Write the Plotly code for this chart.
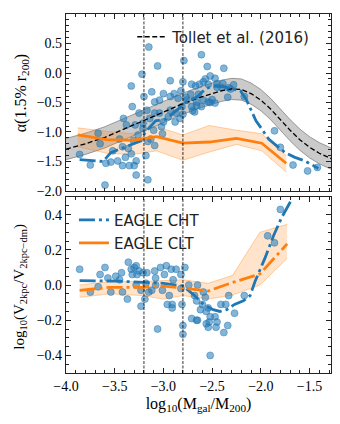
import plotly.graph_objects as go

# ---------------- data ----------------
top_x = [-3.06, -3.22, -3.33, -2.93, -2.80, -2.71, -2.59, -2.55, -2.52, -2.47, -2.45, -2.39,
         -3.12, -3.20, -3.00, -2.89, -3.09, -3.04, -2.93, -2.85, -2.81, -2.76, -2.71, -2.66,
         -2.59, -2.54, -2.50, -2.68, -2.61, -3.17, -3.32, -3.25, -2.93, -2.87, -2.83, -2.88,
         -3.00, -2.95, -3.04, -3.09, -3.14, -3.21, -3.29, -3.38, -3.41, -3.26, -3.21, -3.10,
         -3.02, -3.31, -3.16, -3.36, -2.82, -2.77, -2.72, -2.70, -2.80, -2.67, -3.09, -3.13,
         -3.01, -3.15, -3.67, -3.65, -3.45, -3.33, -3.39, -3.28, -3.30, -3.35, -3.42, -3.47,
         -3.52, -3.54, -3.59, -3.75, -3.86, -3.28, -3.60, -3.16, -3.18, -2.79, -3.42, -2.61,
         -2.38, -2.28, -2.33, -2.34, -2.17, -1.86, -1.80, -1.67, -1.52, -1.42, -2.45, -2.40,
         -2.52, -2.47, -2.66, -2.64, -2.63, -2.54, -2.57, -2.31]
top_y = [0.12, -0.02, -0.22, -0.13, -0.15, -0.19, -0.15, 0.11, -0.05, -0.09, -0.18, -0.18,
         -0.32, -0.40, -0.35, -0.35, -0.49, -0.46, -0.40, -0.43, -0.57, -0.46, -0.57, -0.49,
         -0.46, -0.49, -0.45, -0.66, -0.57, -0.63, -0.57, -0.68, -0.63, -0.68, -0.77, -0.83,
         -0.83, -0.74, -0.68, -0.68, -0.77, -0.85, -0.88, -0.88, -0.77, -1.05, -0.94, -0.97,
         -0.91, -1.14, -1.16, -1.28, -0.30, -0.41, -0.36, -0.64, -0.70, -0.22, -1.23, -1.12,
         -1.03, 0.44, -1.02, -1.20, -1.12, -1.37, -1.43, -1.49, -1.57, -1.57, -1.57, -1.49,
         -1.32, -1.51, -1.53, -1.56, -1.38, -1.73, -1.90, -1.81, -1.40, 0.21, -1.25, 0.31,
         0.08, -0.20, -0.25, -0.41, -0.40, -0.98, -1.26, -1.56, -1.66, -1.60, -0.24, -0.25,
         -0.50, -0.51, -0.55, -0.36, -0.19, -0.19, -0.10, -0.27]

bot_x = [-3.86, -3.75, -3.65, -3.60, -3.57, -3.67, -3.54, -3.49, -3.45, -3.42, -3.43, -3.36,
         -3.33, -3.30, -3.28, -3.32, -3.27, -3.25, -3.21, -3.17, -3.37, -3.28, -3.23, -3.19,
         -3.15, -3.23, -3.08, -3.09, -3.03, -2.97, -2.99, -2.92, -2.90, -2.87, -2.82, -2.78,
         -3.08, -3.01, -2.94, -2.96, -2.91, -2.91, -3.06, -2.81, -2.80, -2.80, -2.71, -2.66,
         -2.68, -2.74, -2.82, -3.12, -3.18, -2.65, -2.59, -2.57, -2.60, -2.62, -2.54, -2.56,
         -2.52, -2.53, -2.56, -2.54, -2.52, -2.47, -2.45, -2.46, -2.41, -2.36, -2.38, -2.34,
         -2.33, -2.27, -2.65, -2.66, -2.17, -1.93, -1.86, -1.80]
bot_y = [0.09, -0.04, 0.06, 0.10, 0.04, -0.01, -0.04, 0.05, 0.03, -0.04, 0.07, 0.13,
         0.09, 0.10, 0.11, 0.06, 0.06, 0.08, 0.07, 0.07, -0.08, 0.00, -0.03, -0.08,
         -0.04, -0.12, 0.04, 0.08, 0.10, 0.11, 0.06, 0.09, 0.03, 0.09, 0.06, 0.10,
         0.00, -0.03, -0.06, -0.11, -0.11, -0.13, -0.25, -0.11, -0.23, -0.28, -0.19, -0.20,
         -0.06, 0.00, -0.02, -0.03, 0.01, 0.00, -0.04, -0.07, -0.11, -0.14, -0.13, -0.15,
         -0.18, -0.21, -0.22, -0.24, -0.40, -0.18, -0.21, -0.24, -0.11, -0.11, -0.27, -0.23,
         -0.06, -0.16, -0.20, -0.09, -0.06, 0.28, 0.24, 0.43]

tollet_x = [-4.0, -3.8, -3.6, -3.4, -3.2, -3.0, -2.8, -2.6, -2.4, -2.3, -2.2, -2.1, -2.0,
            -1.9, -1.8, -1.7, -1.6, -1.5, -1.4, -1.28]
tollet_y = [-1.29, -1.20, -1.09, -0.95, -0.81, -0.67, -0.52, -0.40, -0.30, -0.27, -0.28,
            -0.35, -0.46, -0.61, -0.79, -0.97, -1.13, -1.26, -1.36, -1.45]
tollet_err = [0.18, 0.18, 0.18, 0.18, 0.18, 0.18, 0.18, 0.18, 0.18, 0.18, 0.18, 0.18, 0.18,
              0.18, 0.18, 0.18, 0.18, 0.18, 0.18, 0.18]

cht_top_x = [-3.86, -3.62, -3.54, -3.45, -3.35, -3.23, -3.19, -3.08, -2.97, -2.87, -2.77, -2.65,
             -2.57, -2.49, -2.39, -2.30, -2.21, -2.15, -2.05, -1.99, -1.92, -1.84, -1.75, -1.65,
             -1.55, -1.46, -1.41]
cht_top_y = [-1.47, -1.50, -1.35, -1.29, -1.23, -1.15, -1.01, -0.81, -0.78, -0.64, -0.50, -0.40,
             -0.27, -0.22, -0.23, -0.27, -0.30, -0.45, -0.81, -0.95, -1.12, -1.23, -1.35, -1.43,
             -1.49, -1.57, -1.62]

clt_top_x = [-3.88, -3.58, -3.31, -3.07, -2.80, -2.53, -2.25, -1.99, -1.74]
clt_top_y = [-1.05, -1.13, -1.14, -1.08, -1.19, -1.17, -1.11, -1.19, -1.53]
clt_top_hi = [-0.93, -0.99, -1.03, -0.91, -1.05, -0.89, -0.97, -1.03, -1.40]
clt_top_lo = [-1.25, -1.36, -1.38, -1.32, -1.48, -1.34, -1.21, -1.32, -1.68]

cht_bot_x = [-3.86, -3.66, -3.45, -3.20, -3.00, -2.80, -2.68, -2.59, -2.49, -2.42, -2.35, -2.27,
             -2.18, -2.11, -2.06, -1.96, -1.87, -1.79, -1.69]
cht_bot_y = [0.025, 0.025, 0.022, 0.015, 0.010, -0.005, -0.06, -0.11, -0.14, -0.15, -0.14, -0.11,
             -0.09, -0.06, 0.02, 0.15, 0.28, 0.38, 0.48]

clt_bot_x = [-3.86, -3.55, -3.21, -3.00, -2.80, -2.54, -2.29, -2.01, -1.73]
clt_bot_y = [-0.030, -0.013, -0.013, -0.006, -0.017, -0.034, 0.015, 0.063, 0.234]
clt_bot_hi = [0.000, 0.020, 0.020, 0.025, 0.030, 0.010, 0.055, 0.300, 0.345]
clt_bot_lo = [-0.070, -0.050, -0.060, -0.080, -0.060, -0.080, -0.057, 0.000, 0.152]

vline_x = [-3.2, -2.8]

# ---------------- styles ----------------
BLUE = "#1f77b4"
ORANGE = "#ff7f0e"
DASHDOT = "16px,4px,3px,4px"
SERIF = "Liberation Serif"
SANS = "DejaVu Sans"

fig = go.Figure()


def band(x, lo, hi, fill, edge, xa, ya):
    fig.add_trace(go.Scatter(x=x, y=hi, mode="lines", line=dict(color=edge, width=1),
                             showlegend=False, xaxis=xa, yaxis=ya, hoverinfo="skip"))
    fig.add_trace(go.Scatter(x=x, y=lo, mode="lines", line=dict(color=edge, width=1),
                             fill="tonexty", fillcolor=fill, showlegend=False,
                             xaxis=xa, yaxis=ya, hoverinfo="skip"))


# top panel
band(tollet_x, [a - e for a, e in zip(tollet_y, tollet_err)],
     [a + e for a, e in zip(tollet_y, tollet_err)],
     "rgba(128,128,128,0.42)", "rgba(90,90,90,0.55)", "x", "y")
band(clt_top_x, clt_top_lo, clt_top_hi, "rgba(255,127,14,0.22)", "rgba(255,127,14,0.35)", "x", "y")

marker = dict(size=7, color="rgba(31,119,180,0.55)", line=dict(width=0.6, color="rgba(31,119,180,0.75)"))
fig.add_trace(go.Scatter(x=top_x, y=top_y, mode="markers", marker=marker, showlegend=False,
                         xaxis="x", yaxis="y"))
fig.add_trace(go.Scatter(x=tollet_x, y=tollet_y, mode="lines", name="Tollet et al. (2016)",
                         line=dict(color="black", width=1.3, dash="5px,2.5px"),
                         xaxis="x", yaxis="y", legend="legend"))
fig.add_trace(go.Scatter(x=cht_top_x, y=cht_top_y, mode="lines", name="EAGLE CHT",
                         line=dict(color=BLUE, width=2.8, dash=DASHDOT),
                         xaxis="x", yaxis="y", legend="legend2"))
fig.add_trace(go.Scatter(x=clt_top_x, y=clt_top_y, mode="lines", name="EAGLE CLT",
                         line=dict(color=ORANGE, width=2.8),
                         xaxis="x", yaxis="y", legend="legend3"))

# bottom panel
band(clt_bot_x, clt_bot_lo, clt_bot_hi, "rgba(255,127,14,0.22)", "rgba(255,127,14,0.35)", "x2", "y2")
fig.add_trace(go.Scatter(x=bot_x, y=bot_y, mode="markers", marker=marker, showlegend=False,
                         xaxis="x2", yaxis="y2"))
fig.add_trace(go.Scatter(x=cht_bot_x, y=cht_bot_y, mode="lines", showlegend=False,
                         line=dict(color=BLUE, width=2.8, dash=DASHDOT), xaxis="x2", yaxis="y2"))
fig.add_trace(go.Scatter(x=clt_bot_x, y=clt_bot_y, mode="lines", showlegend=False,
                         line=dict(color=ORANGE, width=2.8, dash=DASHDOT), xaxis="x2", yaxis="y2"))

for xv in vline_x:
    for xr, yr in (("x", "y domain"), ("x2", "y2 domain")):
        fig.add_shape(type="line", xref=xr, yref=yr, x0=xv, x1=xv, y0=0, y1=1,
                      line=dict(color="black", width=0.8, dash="3px,1.5px"))

# y-axis titles placed as rotated annotations
fig.add_annotation(text="α(1.5% r<sub>200</sub>)", xref="paper", yref="paper", x=-0.17, y=0.779,
                   xanchor="center", yanchor="middle", textangle=-90, showarrow=False,
                   font=dict(family=SERIF, size=16, color="black"))
fig.add_annotation(text="log<sub>10</sub>(V<sub>2kpc</sub>/V<sub>2kpc−dm</sub>)", xref="paper",
                   yref="paper", x=-0.174, y=0.24, xanchor="center", yanchor="middle",
                   textangle=-90, showarrow=False, font=dict(family=SERIF, size=15, color="black"))

AX = dict(showline=True, linecolor="#222", linewidth=1.2, mirror="allticks", ticks="inside",
          ticklen=5, tickwidth=1, tickcolor="#222", showgrid=False, zeroline=False,
          automargin=False, tickfont=dict(family=SERIF, size=14, color="black"))
XR = [-4.0, -1.28]
LEG = dict(xanchor="left", yanchor="middle", bgcolor="rgba(0,0,0,0)",
           font=dict(family=SANS, size=15, color="#222"), itemwidth=30)

# the page body adds an 8px offset, so the figure is 8px smaller than the window
fig.update_layout(
    width=332, height=416,
    margin=dict(l=58, r=9, t=6, b=51),
    paper_bgcolor="white", plot_bgcolor="white",
    xaxis=dict(AX, range=XR, tick0=-4.0, dtick=0.5, showticklabels=False, anchor="y",
               minor=dict(ticks="inside", dtick=0.1, ticklen=3, tickcolor="#222")),
    yaxis=dict(AX, domain=[0.507, 1], range=[-2.0, 1.0], tick0=0, dtick=0.5, tickformat=".1f",
               anchor="x", minor=dict(ticks="inside", dtick=0.1, ticklen=3, tickcolor="#222")),
    xaxis2=dict(AX, range=XR, tick0=-4.0, dtick=0.5, tickformat=".1f", anchor="y2", matches="x",
                minor=dict(ticks="inside", dtick=0.1, ticklen=3, tickcolor="#222"),
                title=dict(text="log<sub>10</sub>(M<sub>gal</sub>/M<sub>200</sub>)",
                           font=dict(family=SERIF, size=16, color="black"), standoff=4)),
    yaxis2=dict(AX, domain=[0, 0.49], range=[-0.5, 0.5], tick0=0, dtick=0.2, tickformat=".1f",
                anchor="x2", minor=dict(ticks="inside", dtick=0.05, ticklen=3, tickcolor="#222")),
    legend=dict(LEG, x=0.25, y=0.936),
    legend2=dict(LEG, x=0.03, y=0.426),
    legend3=dict(LEG, x=0.03, y=0.362),
)

fig.write_html("out.html")
